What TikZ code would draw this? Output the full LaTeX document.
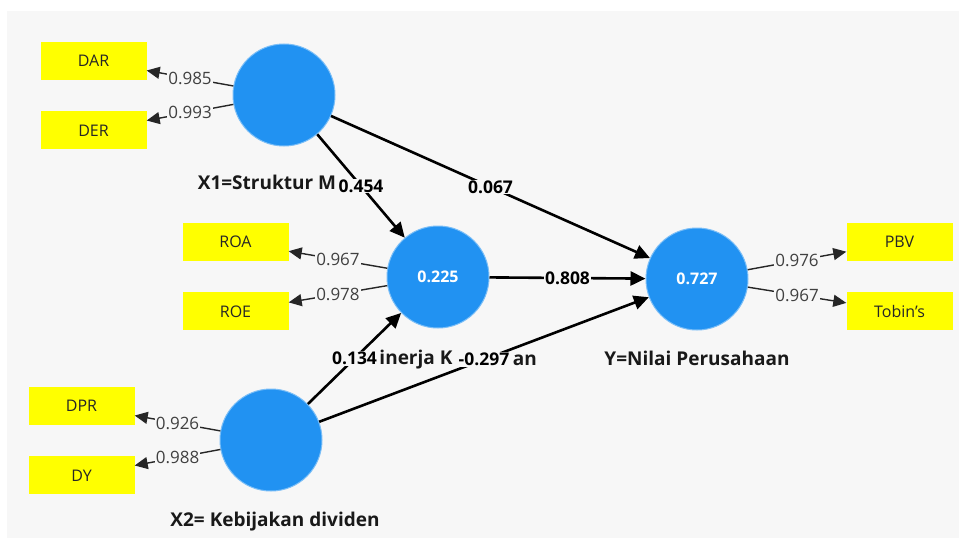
\documentclass[tikz,border=0pt]{standalone}
\usepackage{fontspec}
\setmainfont{Open Sans}
\usetikzlibrary{arrows.meta,positioning}
\definecolor{PlsBlue}{HTML}{2192F2}
\definecolor{PlsYellow}{HTML}{FFFF00}
\definecolor{PlsBack}{HTML}{F7F7F7}

\begin{document}
\begin{tikzpicture}[
  x=1pt, y=-1pt,
  node distance=31pt,
  latent/.style={circle, fill=PlsBlue, draw=PlsBlue!60!white, line width=1pt, minimum size=102pt, inner sep=0pt, text=white, font=\fontsize{16}{16}\selectfont\bfseries},
  indicator/.style={fill=PlsYellow, minimum width=106pt, minimum height=38pt, inner sep=0pt, text=black!85, font=\fontsize{16}{16}\selectfont},
  latname/.style={inner sep=0pt, text=black!90, font=\fontsize{19}{19}\selectfont\bfseries},
  structural/.style={-{Triangle[length=15pt,width=14pt]}, line width=2.6pt},
  loading/.style={-{Triangle[length=13pt,width=12pt]}, line width=1.4pt, color=black!85},
  coef/.style={fill=PlsBack, inner sep=1pt, text=black, font=\fontsize{17.5}{17.5}\selectfont\bfseries},
  loadlbl/.style={fill=PlsBack, inner sep=1pt, text=black!75, font=\fontsize{17}{17}\selectfont}
]
  \useasboundingbox (0,0) rectangle (959,538);
  \fill[PlsBack] (7,11) rectangle (959,538);

  % latent variables
  \node[latent] (x1) at (284,95) {};
  \node[latent] (z) at (438,277) {0.225};
  \node[latent] (y) at (697,279) {0.727};
  \node[latent] (x2) at (271,440) {};

  \node[latname] (yname) at (697,358) {Y=Nilai Perusahaan};
  \node[latname] (x2name) at (275,522) {X2= Kebijakan dividen};

  % indicators
  \node[indicator] (dar) at (93.5,61) {DAR};
  \node[indicator, below=of dar] (der) {DER};
  \node[indicator] (roa) at (235.5,242) {ROA};
  \node[indicator, below=of roa] (roe) {ROE};
  \node[indicator] (dpr) at (81.5,406) {DPR};
  \node[indicator, below=of dpr] (dy) {DY};
  \node[indicator] (pbv) at (899.5,242) {PBV};
  \node[indicator, below=of pbv] (tobin) {Tobin's};

  % outer loadings
  \draw[loading] (x1) -- node[loadlbl] {0.985} (dar);
  \draw[loading] (x1) -- node[loadlbl] {0.993} (der);
  \draw[loading] (z) -- node[loadlbl] {0.967} (roa);
  \draw[loading] (z) -- node[loadlbl] {0.978} (roe);
  \draw[loading] (x2) -- node[loadlbl] {0.926} (dpr);
  \draw[loading] (x2) -- node[loadlbl] {0.988} (dy);
  \draw[loading] (y) -- node[loadlbl] {0.976} (pbv);
  \draw[loading] (y) -- node[loadlbl] {0.967} (tobin);

  % path coefficients
  \draw[structural] (x1) -- node[coef] (c454) {0.454} (z);
  \draw[structural] (x1) -- node[coef] (c067) {0.067} (y);
  \draw[structural] (z) -- node[coef] (c808) {0.808} (y);
  \draw[structural] (x2) -- node[coef] (c134) {0.134} (z);
  \draw[structural] (x2) -- node[coef] (c297) {-0.297} (y);

  % names, cut off by the coefficients
  \node[latname, base left=0pt of c454, yshift=3pt] (x1name) {X1=Struktur M};
  \node[latname, base right=0pt of c134] (zname) {inerja K};
  \node[latname, base right=1pt of c297] (zname2) {an};
\end{tikzpicture}
\end{document}
